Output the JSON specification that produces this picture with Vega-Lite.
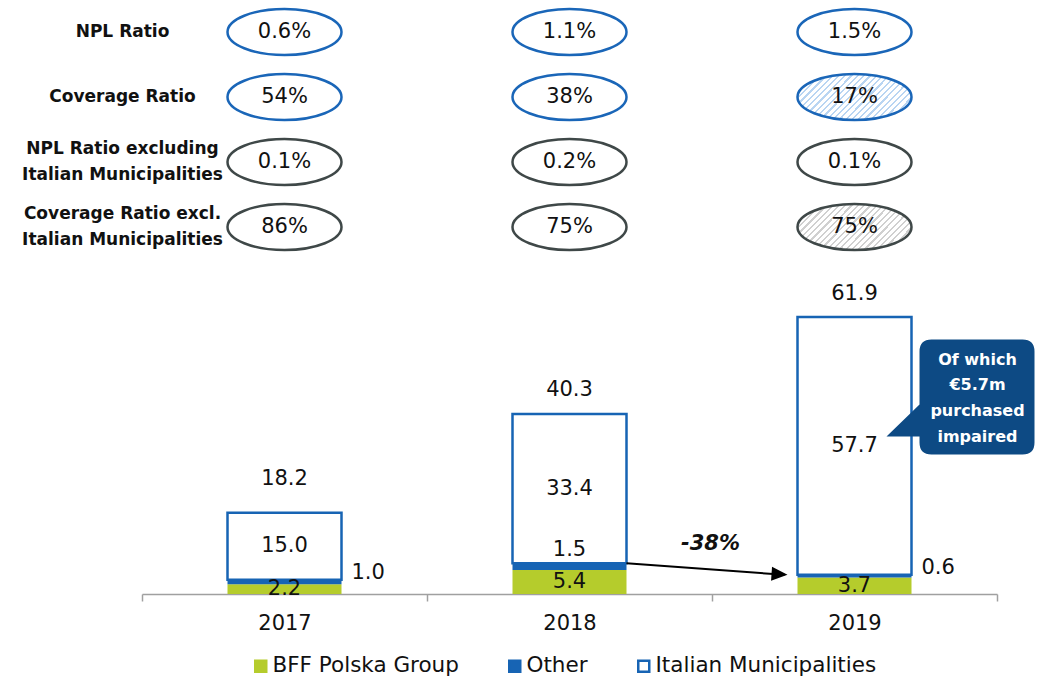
{
  "$schema": "https://vega.github.io/schema/vega-lite/v6.json",
  "autosize": {"type": "none"},
  "width": 855,
  "height": 594,
  "padding": {"left": 142, "top": 0, "right": 40, "bottom": 84},
  "background": "white",
  "config": {
    "view": {"stroke": null},
    "font": "DejaVu Sans",
    "text": {"font": "DejaVu Sans", "fontSize": 21, "color": "#111111"},
    "axis": {"labelFont": "DejaVu Sans"},
    "legend": {"labelFont": "DejaVu Sans"}
  },
  "datasets": {
    "ratios": [
      {"metric": "NPL Ratio", "year": "2017", "value": "0.6%"},
      {"metric": "Coverage Ratio", "year": "2017", "value": "54%"},
      {"metric": "NPL Ratio excluding\nItalian Municipalities", "year": "2017", "value": "0.1%"},
      {"metric": "Coverage Ratio excl.\nItalian Municipalities", "year": "2017", "value": "86%"},
      {"metric": "NPL Ratio", "year": "2018", "value": "1.1%"},
      {"metric": "Coverage Ratio", "year": "2018", "value": "38%"},
      {"metric": "NPL Ratio excluding\nItalian Municipalities", "year": "2018", "value": "0.2%"},
      {"metric": "Coverage Ratio excl.\nItalian Municipalities", "year": "2018", "value": "75%"},
      {"metric": "NPL Ratio", "year": "2019", "value": "1.5%"},
      {"metric": "Coverage Ratio", "year": "2019", "value": "17%"},
      {"metric": "NPL Ratio excluding\nItalian Municipalities", "year": "2019", "value": "0.1%"},
      {"metric": "Coverage Ratio excl.\nItalian Municipalities", "year": "2019", "value": "75%"}
    ],
    "bars": [
      {"year": "2017", "series": "BFF Polska Group", "value": 2.2, "k": 1},
      {"year": "2017", "series": "Other", "value": 1.0, "k": 2},
      {"year": "2017", "series": "Italian Municipalities", "value": 15.0, "k": 3},
      {"year": "2018", "series": "BFF Polska Group", "value": 5.4, "k": 1},
      {"year": "2018", "series": "Other", "value": 1.5, "k": 2},
      {"year": "2018", "series": "Italian Municipalities", "value": 33.4, "k": 3},
      {"year": "2019", "series": "BFF Polska Group", "value": 3.7, "k": 1},
      {"year": "2019", "series": "Other", "value": 0.6, "k": 2},
      {"year": "2019", "series": "Italian Municipalities", "value": 57.7, "k": 3}
    ],
    "totals": [
      {"year": "2017", "total": 18.2},
      {"year": "2018", "total": 40.3},
      {"year": "2019", "total": 61.9}
    ],
    "notes": [
      {"year": "2019", "anchor": 61.9, "note": "Of which\n€5.7m\npurchased\nimpaired"}
    ],
    "arrows": [
      {"from": "2018", "to": "2019", "start": 6.9, "end": 4.3, "label": "-38%"}
    ]
  },
  "layer": [
    {
      "data": {"name": "ratios"},
      "encoding": {
        "x": {"field": "year", "type": "nominal", "title": null,
          "scale": {"domain": ["2017", "2018", "2019"], "paddingInner": 0, "paddingOuter": 0},
          "axis": {"title": null, "domainColor": "#a0a0a0", "domainWidth": 1.5, "tickColor": "#a0a0a0", "tickWidth": 1.5, "tickSize": 7, "tickBand": "extent", "labelFontSize": 21, "labelColor": "#111111", "labelPadding": 11, "labelAngle": 0}},
        "y": {"field": "metric", "type": "nominal",
          "scale": {"type": "point", "domain": ["NPL Ratio", "Coverage Ratio", "NPL Ratio excluding\nItalian Municipalities", "Coverage Ratio excl.\nItalian Municipalities"], "range": [32, 227], "padding": 0},
          "axis": null}
      },
      "layer": [
        {
          "mark": {"type": "point", "shape": "M -57 0 A 57 23 0 1 1 57 0 A 57 23 0 1 1 -57 0 Z", "size": 4, "filled": true, "opacity": 1, "strokeWidth": 2.5},
          "encoding": {
            "fill": {"condition": [
              {"test": "datum.year == '2019' && indexof(datum.metric, 'Coverage') >= 0 && indexof(datum.metric, 'Italian') >= 0",
               "value": {"gradient": "linear", "x1": 0, "y1": 0, "x2": 1.4, "y2": 0.56, "stops": [
                {"offset": 0, "color": "#ffffff"}, {"offset": 0.022, "color": "#ffffff"}, {"offset": 0.022, "color": "#d0d0d0"}, {"offset": 0.034, "color": "#d0d0d0"},
                {"offset": 0.034, "color": "#ffffff"}, {"offset": 0.056, "color": "#ffffff"}, {"offset": 0.056, "color": "#d0d0d0"}, {"offset": 0.068, "color": "#d0d0d0"},
                {"offset": 0.068, "color": "#ffffff"}, {"offset": 0.09, "color": "#ffffff"}, {"offset": 0.09, "color": "#d0d0d0"}, {"offset": 0.102, "color": "#d0d0d0"},
                {"offset": 0.102, "color": "#ffffff"}, {"offset": 0.124, "color": "#ffffff"}, {"offset": 0.124, "color": "#d0d0d0"}, {"offset": 0.136, "color": "#d0d0d0"},
                {"offset": 0.136, "color": "#ffffff"}, {"offset": 0.158, "color": "#ffffff"}, {"offset": 0.158, "color": "#d0d0d0"}, {"offset": 0.17, "color": "#d0d0d0"},
                {"offset": 0.17, "color": "#ffffff"}, {"offset": 0.192, "color": "#ffffff"}, {"offset": 0.192, "color": "#d0d0d0"}, {"offset": 0.204, "color": "#d0d0d0"},
                {"offset": 0.204, "color": "#ffffff"}, {"offset": 0.226, "color": "#ffffff"}, {"offset": 0.226, "color": "#d0d0d0"}, {"offset": 0.238, "color": "#d0d0d0"},
                {"offset": 0.238, "color": "#ffffff"}, {"offset": 0.26, "color": "#ffffff"}, {"offset": 0.26, "color": "#d0d0d0"}, {"offset": 0.272, "color": "#d0d0d0"},
                {"offset": 0.272, "color": "#ffffff"}, {"offset": 0.294, "color": "#ffffff"}, {"offset": 0.294, "color": "#d0d0d0"}, {"offset": 0.306, "color": "#d0d0d0"},
                {"offset": 0.306, "color": "#ffffff"}, {"offset": 0.328, "color": "#ffffff"}, {"offset": 0.328, "color": "#d0d0d0"}, {"offset": 0.34, "color": "#d0d0d0"},
                {"offset": 0.34, "color": "#ffffff"}, {"offset": 0.362, "color": "#ffffff"}, {"offset": 0.362, "color": "#d0d0d0"}, {"offset": 0.374, "color": "#d0d0d0"},
                {"offset": 0.374, "color": "#ffffff"}, {"offset": 0.396, "color": "#ffffff"}, {"offset": 0.396, "color": "#d0d0d0"}, {"offset": 0.408, "color": "#d0d0d0"},
                {"offset": 0.408, "color": "#ffffff"}, {"offset": 0.43, "color": "#ffffff"}, {"offset": 0.43, "color": "#d0d0d0"}, {"offset": 0.442, "color": "#d0d0d0"},
                {"offset": 0.442, "color": "#ffffff"}, {"offset": 0.464, "color": "#ffffff"}, {"offset": 0.464, "color": "#d0d0d0"}, {"offset": 0.476, "color": "#d0d0d0"},
                {"offset": 0.476, "color": "#ffffff"}, {"offset": 0.498, "color": "#ffffff"}, {"offset": 0.498, "color": "#d0d0d0"}, {"offset": 0.51, "color": "#d0d0d0"},
                {"offset": 0.51, "color": "#ffffff"}, {"offset": 0.532, "color": "#ffffff"}, {"offset": 0.532, "color": "#d0d0d0"}, {"offset": 0.544, "color": "#d0d0d0"},
                {"offset": 0.544, "color": "#ffffff"}, {"offset": 0.566, "color": "#ffffff"}, {"offset": 0.566, "color": "#d0d0d0"}, {"offset": 0.578, "color": "#d0d0d0"},
                {"offset": 0.578, "color": "#ffffff"}, {"offset": 0.6, "color": "#ffffff"}, {"offset": 0.6, "color": "#d0d0d0"}, {"offset": 0.612, "color": "#d0d0d0"},
                {"offset": 0.612, "color": "#ffffff"}, {"offset": 0.634, "color": "#ffffff"}, {"offset": 0.634, "color": "#d0d0d0"}, {"offset": 0.646, "color": "#d0d0d0"},
                {"offset": 0.646, "color": "#ffffff"}, {"offset": 0.668, "color": "#ffffff"}, {"offset": 0.668, "color": "#d0d0d0"}, {"offset": 0.68, "color": "#d0d0d0"},
                {"offset": 0.68, "color": "#ffffff"}, {"offset": 0.702, "color": "#ffffff"}, {"offset": 0.702, "color": "#d0d0d0"}, {"offset": 0.714, "color": "#d0d0d0"},
                {"offset": 0.714, "color": "#ffffff"}, {"offset": 0.736, "color": "#ffffff"}, {"offset": 0.736, "color": "#d0d0d0"}, {"offset": 0.748, "color": "#d0d0d0"},
                {"offset": 0.748, "color": "#ffffff"}, {"offset": 0.77, "color": "#ffffff"}, {"offset": 0.77, "color": "#d0d0d0"}, {"offset": 0.782, "color": "#d0d0d0"},
                {"offset": 0.782, "color": "#ffffff"}, {"offset": 0.804, "color": "#ffffff"}, {"offset": 0.804, "color": "#d0d0d0"}, {"offset": 0.816, "color": "#d0d0d0"},
                {"offset": 0.816, "color": "#ffffff"}, {"offset": 0.838, "color": "#ffffff"}, {"offset": 0.838, "color": "#d0d0d0"}, {"offset": 0.85, "color": "#d0d0d0"},
                {"offset": 0.85, "color": "#ffffff"}, {"offset": 0.872, "color": "#ffffff"}, {"offset": 0.872, "color": "#d0d0d0"}, {"offset": 0.884, "color": "#d0d0d0"},
                {"offset": 0.884, "color": "#ffffff"}, {"offset": 1, "color": "#ffffff"}
              ]}},
              {"test": "datum.year == '2019' && indexof(datum.metric, 'Coverage') >= 0",
               "value": {"gradient": "linear", "x1": 0, "y1": 0, "x2": 1.4, "y2": 0.56, "stops": [
                {"offset": 0, "color": "#ffffff"}, {"offset": 0.022, "color": "#ffffff"}, {"offset": 0.022, "color": "#b9d5f2"}, {"offset": 0.034, "color": "#b9d5f2"},
                {"offset": 0.034, "color": "#ffffff"}, {"offset": 0.056, "color": "#ffffff"}, {"offset": 0.056, "color": "#b9d5f2"}, {"offset": 0.068, "color": "#b9d5f2"},
                {"offset": 0.068, "color": "#ffffff"}, {"offset": 0.09, "color": "#ffffff"}, {"offset": 0.09, "color": "#b9d5f2"}, {"offset": 0.102, "color": "#b9d5f2"},
                {"offset": 0.102, "color": "#ffffff"}, {"offset": 0.124, "color": "#ffffff"}, {"offset": 0.124, "color": "#b9d5f2"}, {"offset": 0.136, "color": "#b9d5f2"},
                {"offset": 0.136, "color": "#ffffff"}, {"offset": 0.158, "color": "#ffffff"}, {"offset": 0.158, "color": "#b9d5f2"}, {"offset": 0.17, "color": "#b9d5f2"},
                {"offset": 0.17, "color": "#ffffff"}, {"offset": 0.192, "color": "#ffffff"}, {"offset": 0.192, "color": "#b9d5f2"}, {"offset": 0.204, "color": "#b9d5f2"},
                {"offset": 0.204, "color": "#ffffff"}, {"offset": 0.226, "color": "#ffffff"}, {"offset": 0.226, "color": "#b9d5f2"}, {"offset": 0.238, "color": "#b9d5f2"},
                {"offset": 0.238, "color": "#ffffff"}, {"offset": 0.26, "color": "#ffffff"}, {"offset": 0.26, "color": "#b9d5f2"}, {"offset": 0.272, "color": "#b9d5f2"},
                {"offset": 0.272, "color": "#ffffff"}, {"offset": 0.294, "color": "#ffffff"}, {"offset": 0.294, "color": "#b9d5f2"}, {"offset": 0.306, "color": "#b9d5f2"},
                {"offset": 0.306, "color": "#ffffff"}, {"offset": 0.328, "color": "#ffffff"}, {"offset": 0.328, "color": "#b9d5f2"}, {"offset": 0.34, "color": "#b9d5f2"},
                {"offset": 0.34, "color": "#ffffff"}, {"offset": 0.362, "color": "#ffffff"}, {"offset": 0.362, "color": "#b9d5f2"}, {"offset": 0.374, "color": "#b9d5f2"},
                {"offset": 0.374, "color": "#ffffff"}, {"offset": 0.396, "color": "#ffffff"}, {"offset": 0.396, "color": "#b9d5f2"}, {"offset": 0.408, "color": "#b9d5f2"},
                {"offset": 0.408, "color": "#ffffff"}, {"offset": 0.43, "color": "#ffffff"}, {"offset": 0.43, "color": "#b9d5f2"}, {"offset": 0.442, "color": "#b9d5f2"},
                {"offset": 0.442, "color": "#ffffff"}, {"offset": 0.464, "color": "#ffffff"}, {"offset": 0.464, "color": "#b9d5f2"}, {"offset": 0.476, "color": "#b9d5f2"},
                {"offset": 0.476, "color": "#ffffff"}, {"offset": 0.498, "color": "#ffffff"}, {"offset": 0.498, "color": "#b9d5f2"}, {"offset": 0.51, "color": "#b9d5f2"},
                {"offset": 0.51, "color": "#ffffff"}, {"offset": 0.532, "color": "#ffffff"}, {"offset": 0.532, "color": "#b9d5f2"}, {"offset": 0.544, "color": "#b9d5f2"},
                {"offset": 0.544, "color": "#ffffff"}, {"offset": 0.566, "color": "#ffffff"}, {"offset": 0.566, "color": "#b9d5f2"}, {"offset": 0.578, "color": "#b9d5f2"},
                {"offset": 0.578, "color": "#ffffff"}, {"offset": 0.6, "color": "#ffffff"}, {"offset": 0.6, "color": "#b9d5f2"}, {"offset": 0.612, "color": "#b9d5f2"},
                {"offset": 0.612, "color": "#ffffff"}, {"offset": 0.634, "color": "#ffffff"}, {"offset": 0.634, "color": "#b9d5f2"}, {"offset": 0.646, "color": "#b9d5f2"},
                {"offset": 0.646, "color": "#ffffff"}, {"offset": 0.668, "color": "#ffffff"}, {"offset": 0.668, "color": "#b9d5f2"}, {"offset": 0.68, "color": "#b9d5f2"},
                {"offset": 0.68, "color": "#ffffff"}, {"offset": 0.702, "color": "#ffffff"}, {"offset": 0.702, "color": "#b9d5f2"}, {"offset": 0.714, "color": "#b9d5f2"},
                {"offset": 0.714, "color": "#ffffff"}, {"offset": 0.736, "color": "#ffffff"}, {"offset": 0.736, "color": "#b9d5f2"}, {"offset": 0.748, "color": "#b9d5f2"},
                {"offset": 0.748, "color": "#ffffff"}, {"offset": 0.77, "color": "#ffffff"}, {"offset": 0.77, "color": "#b9d5f2"}, {"offset": 0.782, "color": "#b9d5f2"},
                {"offset": 0.782, "color": "#ffffff"}, {"offset": 0.804, "color": "#ffffff"}, {"offset": 0.804, "color": "#b9d5f2"}, {"offset": 0.816, "color": "#b9d5f2"},
                {"offset": 0.816, "color": "#ffffff"}, {"offset": 0.838, "color": "#ffffff"}, {"offset": 0.838, "color": "#b9d5f2"}, {"offset": 0.85, "color": "#b9d5f2"},
                {"offset": 0.85, "color": "#ffffff"}, {"offset": 0.872, "color": "#ffffff"}, {"offset": 0.872, "color": "#b9d5f2"}, {"offset": 0.884, "color": "#b9d5f2"},
                {"offset": 0.884, "color": "#ffffff"}, {"offset": 1, "color": "#ffffff"}
              ]}}
            ], "value": "#ffffff"},
            "stroke": {"condition": {"test": "indexof(datum.metric, 'Italian') >= 0", "value": "#3f4848"}, "value": "#1a66b8"}
          }
        },
        {
          "mark": {"type": "text", "fontSize": 21},
          "encoding": {"text": {"field": "value", "type": "nominal"}}
        },
        {
          "transform": [{"filter": "datum.year == '2017' && indexof(datum.metric, 'Italian') < 0"}],
          "mark": {"type": "text", "fontWeight": "bold", "fontSize": 17, "dx": -162},
          "encoding": {"text": {"field": "metric", "type": "nominal"}}
        },
        {
          "transform": [{"filter": "datum.year == '2017' && indexof(datum.metric, 'Italian') >= 0"}],
          "mark": {"type": "text", "fontWeight": "bold", "fontSize": 17, "dx": -162, "dy": -13, "lineBreak": "\n", "lineHeight": 26},
          "encoding": {"text": {"field": "metric", "type": "nominal"}}
        }
      ]
    },
    {
      "layer": [
        {
          "data": {"name": "bars"},
          "mark": {"type": "bar", "width": {"band": 0.4}},
          "encoding": {
            "x": {"field": "year", "type": "nominal", "title": null},
            "y": {"field": "value", "type": "quantitative", "stack": "zero", "scale": {"domain": [0, 133], "nice": false}, "axis": null},
            "order": {"field": "k", "type": "quantitative"},
            "fill": {"field": "series", "type": "nominal",
              "scale": {"domain": ["BFF Polska Group", "Other", "Italian Municipalities"], "range": ["#b5cc2c", "#1764b4", "#ffffff"]},
              "legend": {"title": null, "orient": "none", "legendX": 108, "legendY": 655, "direction": "horizontal", "symbolType": "square", "symbolSize": 121, "symbolStrokeWidth": 2.5, "labelFontSize": 21.5, "labelColor": "#111111", "labelOffset": 1, "columnPadding": 45, "padding": 0, "labelLimit": 400}},
            "stroke": {"field": "series", "type": "nominal",
              "scale": {"domain": ["BFF Polska Group", "Other", "Italian Municipalities"], "range": ["#b5cc2c", "#1764b4", "#1764b4"]},
              "legend": {"title": null, "orient": "none", "legendX": 108, "legendY": 655, "direction": "horizontal", "symbolType": "square", "symbolSize": 121, "symbolStrokeWidth": 2.5, "labelFontSize": 21.5, "labelColor": "#111111", "labelOffset": 1, "columnPadding": 45, "padding": 0, "labelLimit": 400}},
            "strokeWidth": {"condition": {"test": "datum.series == 'Italian Municipalities'", "value": 2.5}, "value": 0}
          }
        },
        {
          "data": {"name": "bars"},
          "mark": {"type": "text", "fontSize": 21},
          "encoding": {
            "x": {"field": "year", "type": "nominal", "title": null},
            "y": {"field": "value", "type": "quantitative", "stack": "zero", "bandPosition": 0.5, "scale": {"domain": [0, 133], "nice": false}, "axis": null},
            "order": {"field": "k", "type": "quantitative"},
            "text": {"condition": {"test": "datum.series != 'Other'", "field": "value", "type": "quantitative", "format": ".1f"}, "value": ""}
          }
        },
        {
          "data": {"name": "bars"},
          "transform": [{"filter": "datum.year == '2018'"}],
          "mark": {"type": "text", "fontSize": 21, "dy": -13},
          "encoding": {
            "x": {"field": "year", "type": "nominal", "title": null},
            "y": {"field": "value", "type": "quantitative", "stack": "zero", "scale": {"domain": [0, 133], "nice": false}, "axis": null},
            "order": {"field": "k", "type": "quantitative"},
            "text": {"condition": {"test": "datum.series == 'Other'", "field": "value", "type": "quantitative", "format": ".1f"}, "value": ""}
          }
        },
        {
          "data": {"name": "bars"},
          "transform": [{"filter": "datum.year != '2018'"}],
          "mark": {"type": "text", "fontSize": 21, "align": "left", "dx": 67, "dy": -7},
          "encoding": {
            "x": {"field": "year", "type": "nominal", "title": null},
            "y": {"field": "value", "type": "quantitative", "stack": "zero", "scale": {"domain": [0, 133], "nice": false}, "axis": null},
            "order": {"field": "k", "type": "quantitative"},
            "text": {"condition": {"test": "datum.series == 'Other'", "field": "value", "type": "quantitative", "format": ".1f"}, "value": ""}
          }
        },
        {
          "data": {"name": "totals"},
          "transform": [{"filter": "datum.year != '2017'"}],
          "mark": {"type": "text", "fontSize": 21, "dy": -24},
          "encoding": {
            "x": {"field": "year", "type": "nominal", "title": null},
            "y": {"field": "total", "type": "quantitative", "scale": {"domain": [0, 133], "nice": false}, "axis": null},
            "text": {"field": "total", "type": "quantitative", "format": ".1f"}
          }
        },
        {
          "data": {"name": "totals"},
          "transform": [{"filter": "datum.year == '2017'"}],
          "mark": {"type": "text", "fontSize": 21, "dy": -34},
          "encoding": {
            "x": {"field": "year", "type": "nominal", "title": null},
            "y": {"field": "total", "type": "quantitative", "scale": {"domain": [0, 133], "nice": false}, "axis": null},
            "text": {"field": "total", "type": "quantitative", "format": ".1f"}
          }
        },
        {
          "data": {"name": "notes"},
          "mark": {"type": "point", "shape": "M 77 22 H 168 Q 180 22 180 34 V 125 Q 180 137 168 137 H 77 Q 65 137 65 125 V 119 L 32 119 L 65 87 V 34 Q 65 22 77 22 Z", "size": 4, "filled": true, "opacity": 1, "fill": "#0d4a84", "strokeWidth": 0},
          "encoding": {
            "x": {"field": "year", "type": "nominal", "title": null},
            "y": {"field": "anchor", "type": "quantitative", "scale": {"domain": [0, 133], "nice": false}, "axis": null}
          }
        },
        {
          "data": {"name": "notes"},
          "mark": {"type": "text", "fontSize": 16, "fontWeight": "bold", "color": "#ffffff", "dx": 123, "dy": 42, "lineBreak": "\n", "lineHeight": 25.7},
          "encoding": {
            "x": {"field": "year", "type": "nominal", "title": null},
            "y": {"field": "anchor", "type": "quantitative", "scale": {"domain": [0, 133], "nice": false}, "axis": null},
            "text": {"field": "note", "type": "nominal"}
          }
        },
        {
          "data": {"name": "arrows"},
          "mark": {"type": "rule", "color": "#000000", "strokeWidth": 2, "xOffset": 57, "x2Offset": -70},
          "encoding": {
            "x": {"field": "from", "type": "nominal", "title": null},
            "x2": {"field": "to"},
            "y": {"field": "start", "type": "quantitative", "scale": {"domain": [0, 133], "nice": false}, "axis": null},
            "y2": {"field": "end"}
          }
        },
        {
          "data": {"name": "arrows"},
          "mark": {"type": "point", "shape": "M 0 0 L -16 -7 L -16 7 Z", "size": 4, "filled": true, "opacity": 1, "color": "#000000", "angle": 4, "xOffset": -67},
          "encoding": {
            "x": {"field": "to", "type": "nominal", "title": null},
            "y": {"field": "end", "type": "quantitative", "scale": {"domain": [0, 133], "nice": false}, "axis": null}
          }
        },
        {
          "data": {"name": "arrows"},
          "mark": {"type": "text", "fontSize": 21, "fontWeight": "bold", "fontStyle": "italic", "dx": 141, "dy": -19},
          "encoding": {
            "x": {"field": "from", "type": "nominal", "title": null},
            "y": {"field": "start", "type": "quantitative", "scale": {"domain": [0, 133], "nice": false}, "axis": null},
            "text": {"field": "label", "type": "nominal"}
          }
        }
      ]
    }
  ],
  "resolve": {"scale": {"y": "independent"}}
}
